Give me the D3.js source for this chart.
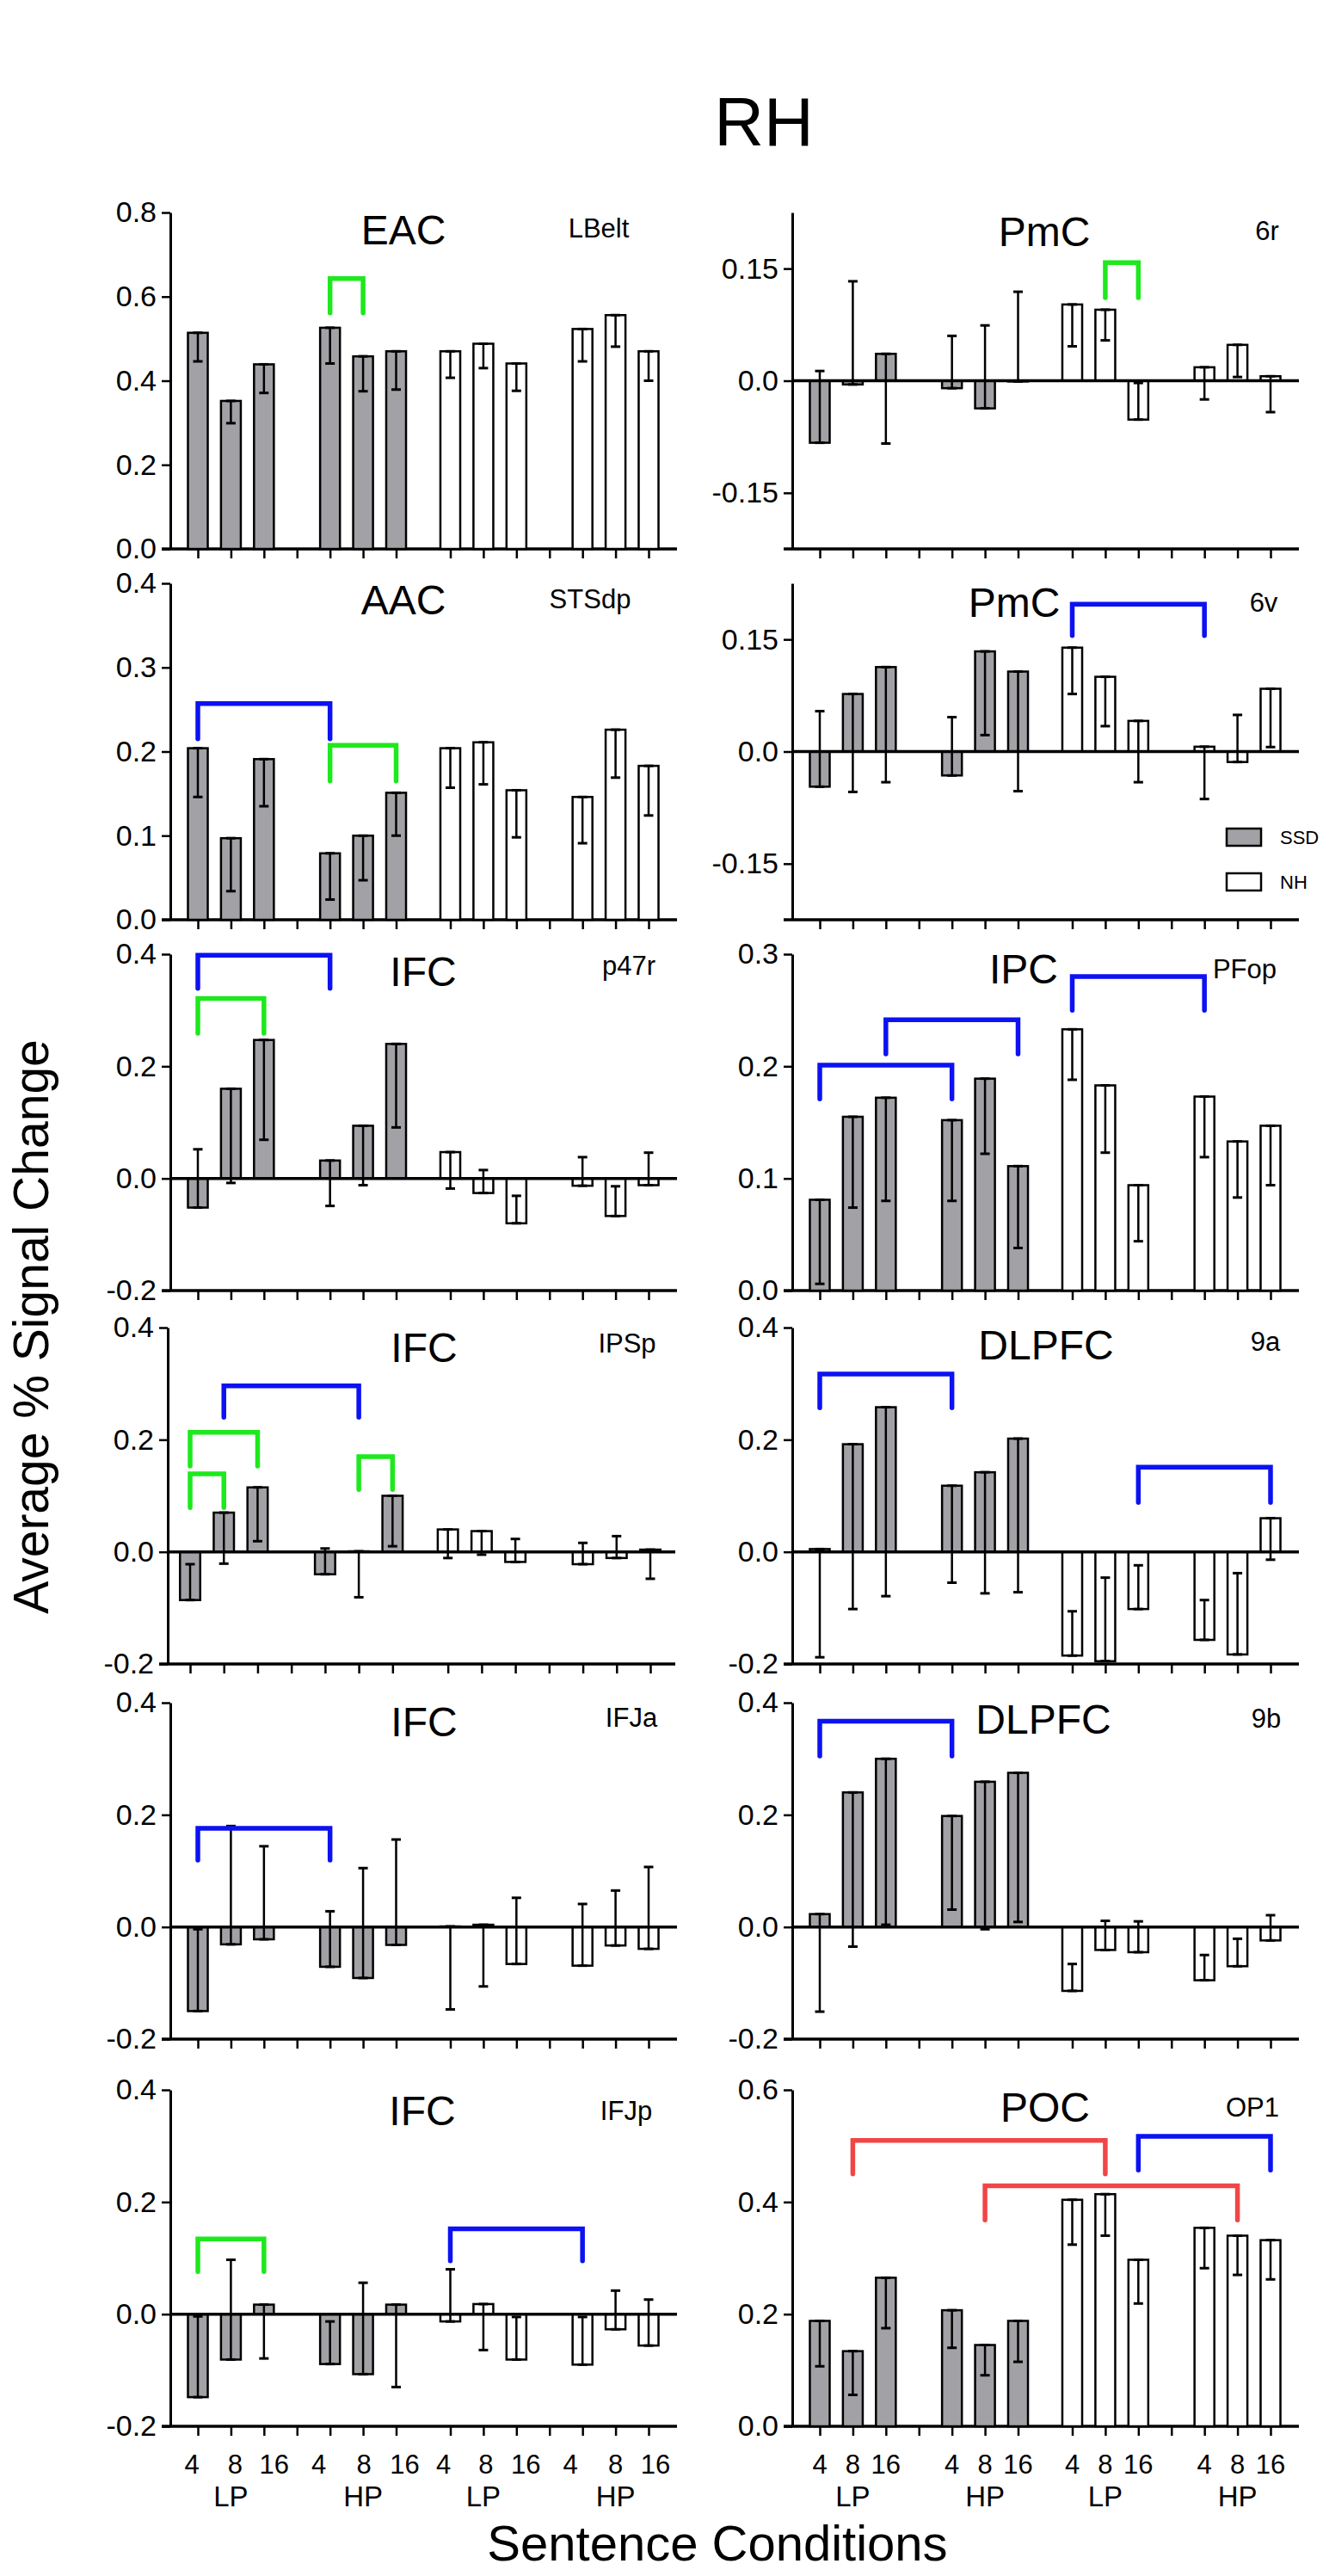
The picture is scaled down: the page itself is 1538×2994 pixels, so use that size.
<!DOCTYPE html>
<html>
<head>
<meta charset="utf-8">
<script src="https://cdn.jsdelivr.net/npm/d3@7"></script>
<style>
  body { margin: 0; background: #fff; }
  svg { display: block; }
  text { font-family: "Liberation Sans", Arial, Helvetica, sans-serif; fill: #000; }
</style>
</head>
<body>
<svg id="chart" width="1538" height="2994"></svg>
<script>
// ---------------- DATA ----------------
// condition order: SSD LP4, LP8, LP16, HP4, HP8, HP16, then NH LP4, LP8, LP16, HP4, HP8, HP16
const groupNames = ["SSD", "NH"];
const conditionLabels = ["4", "8", "16", "4", "8", "16", "4", "8", "16", "4", "8", "16"];
const predictabilityLabels = ["LP", "HP", "LP", "HP"];
const figureTitle = "RH";
const xAxisTitle = "Sentence Conditions";
const yAxisTitle = "Average % Signal Change";

// y ranges and tick labels
const yDomainEAC = [0, 0.8],      yTicksEAC = [0, 0.2, 0.4, 0.6, 0.8];
const yDomainPmC = [-0.225, 0.225], yTicksPmC = [-0.15, 0, 0.15];
const yDomainAAC = [0, 0.4],      yTicksAAC = [0, 0.1, 0.2, 0.3, 0.4];
const yDomainIFC = [-0.2, 0.4],   yTicksIFC = [-0.2, 0, 0.2, 0.4];
const yDomainIPC = [0, 0.3],      yTicksIPC = [0, 0.1, 0.2, 0.3];
const yDomainPOC = [0, 0.6],      yTicksPOC = [0, 0.2, 0.4, 0.6];

// means and standard errors
const eacLBeltMean = [0.514, 0.352, 0.439, 0.526, 0.458, 0.470, 0.470, 0.488, 0.441, 0.523, 0.556, 0.470];
const eacLBeltErr  = [0.068, 0.053, 0.068, 0.085, 0.083, 0.091, 0.063, 0.058, 0.065, 0.077, 0.075, 0.070];
const pmc6rMean = [-0.083, -0.005, 0.036, -0.010, -0.037, -0.001, 0.102, 0.095, -0.052, 0.018, 0.048, 0.006];
const pmc6rErr  = [0.096, 0.138, 0.120, 0.070, 0.111, 0.120, 0.056, 0.041, 0.049, 0.043, 0.043, 0.048];
const aacSTSdpMean = [0.204, 0.097, 0.191, 0.079, 0.100, 0.151, 0.204, 0.211, 0.154, 0.146, 0.226, 0.183];
const aacSTSdpErr  = [0.058, 0.063, 0.056, 0.055, 0.053, 0.051, 0.047, 0.050, 0.056, 0.055, 0.057, 0.059];
const pmc6vMean = [-0.047, 0.077, 0.113, -0.032, 0.134, 0.107, 0.139, 0.100, 0.041, 0.0065, -0.014, 0.084];
const pmc6vErr  = [0.101, 0.131, 0.154, 0.078, 0.112, 0.160, 0.062, 0.066, 0.082, 0.070, 0.063, 0.078];
const ifcP47rMean = [-0.052, 0.160, 0.247, 0.032, 0.094, 0.240, 0.047, -0.026, -0.080, -0.013, -0.067, -0.012];
const ifcP47rErr  = [0.104, 0.168, 0.178, 0.081, 0.106, 0.149, 0.065, 0.041, 0.049, 0.051, 0.053, 0.058];
const ipcPFopMean = [0.081, 0.155, 0.172, 0.152, 0.189, 0.111, 0.233, 0.183, 0.094, 0.173, 0.133, 0.147];
const ipcPFopErr  = [0.075, 0.081, 0.092, 0.072, 0.067, 0.073, 0.045, 0.060, 0.050, 0.054, 0.050, 0.053];
const ifcIPSpMean = [-0.086, 0.070, 0.115, -0.040, 0.001, 0.100, 0.040, 0.037, -0.018, -0.022, -0.011, 0.004];
const ifcIPSpErr  = [0.064, 0.091, 0.096, 0.046, 0.082, 0.090, 0.051, 0.042, 0.041, 0.038, 0.039, 0.052];
const dlpfc9aMean = [0.005, 0.192, 0.258, 0.118, 0.142, 0.202, -0.185, -0.195, -0.102, -0.157, -0.183, 0.060];
const dlpfc9aErr  = [0.193, 0.294, 0.337, 0.173, 0.216, 0.274, 0.079, 0.149, 0.078, 0.071, 0.145, 0.074];
const ifcIFJaMean = [-0.150, -0.031, -0.022, -0.071, -0.091, -0.032, 0.001, 0.004, -0.066, -0.069, -0.033, -0.039];
const ifcIFJaErr  = [0.146, 0.211, 0.166, 0.099, 0.196, 0.188, 0.148, 0.110, 0.118, 0.110, 0.098, 0.146];
const dlpfc9bMean = [0.023, 0.240, 0.300, 0.198, 0.259, 0.275, -0.114, -0.041, -0.045, -0.095, -0.070, -0.024];
const dlpfc9bErr  = [0.174, 0.275, 0.296, 0.167, 0.263, 0.266, 0.048, 0.052, 0.055, 0.045, 0.049, 0.045];
const ifcIFJpMean = [-0.148, -0.081, 0.017, -0.089, -0.107, 0.017, -0.013, 0.018, -0.081, -0.090, -0.027, -0.056];
const ifcIFJpErr  = [0.144, 0.178, 0.096, 0.076, 0.163, 0.147, 0.093, 0.082, 0.076, 0.085, 0.069, 0.082];
const pocOP1Mean = [0.188, 0.134, 0.265, 0.207, 0.145, 0.188, 0.404, 0.414, 0.297, 0.354, 0.340, 0.332];
const pocOP1Err  = [0.081, 0.078, 0.090, 0.067, 0.054, 0.073, 0.080, 0.074, 0.078, 0.072, 0.070, 0.070];

// significance brackets: [fromCondition, toCondition, top value, leg end value, kind]
const eacLBeltBrackets = [[3, 4, 0.643, 0.561, "green"]];
const pmc6rBrackets = [[7, 8, 0.158, 0.111, "green"]];
const aacSTSdpBrackets = [[0, 3, 0.257, 0.215, "blue"], [3, 5, 0.2075, 0.165, "green"]];
const pmc6vBrackets = [[6, 9, 0.197, 0.155, "blue"]];
const ifcP47rBrackets = [[0, 3, 0.398, 0.339, "blue"], [0, 2, 0.321, 0.259, "green"]];
const ipcPFopBrackets = [[0, 3, 0.201, 0.171, "blue"], [2, 5, 0.2415, 0.211, "blue"], [6, 9, 0.280, 0.250, "blue"]];
const ifcIPSpBrackets = [[1, 4, 0.296, 0.240, "blue"], [0, 2, 0.213, 0.153, "green"], [0, 1, 0.139, 0.079, "green"], [4, 5, 0.170, 0.111, "green"]];
const dlpfc9aBrackets = [[0, 3, 0.317, 0.257, "blue"], [8, 11, 0.151, 0.088, "blue"]];
const ifcIFJaBrackets = [[0, 3, 0.176, 0.119, "blue"]];
const dlpfc9bBrackets = [[0, 3, 0.367, 0.305, "blue"]];
const ifcIFJpBrackets = [[0, 2, 0.134, 0.076, "green"], [6, 9, 0.152, 0.095, "blue"]];
const pocOP1Brackets = [[1, 7, 0.510, 0.450, "red"], [4, 10, 0.429, 0.368, "red"], [8, 11, 0.517, 0.457, "blue"]];

const panels = [
  { region: "EAC",   area: "LBelt", mean: eacLBeltMean, err: eacLBeltErr, domain: yDomainEAC, ticks: yTicksEAC, brackets: eacLBeltBrackets },
  { region: "PmC",   area: "6r",    mean: pmc6rMean,    err: pmc6rErr,    domain: yDomainPmC, ticks: yTicksPmC, brackets: pmc6rBrackets },
  { region: "AAC",   area: "STSdp", mean: aacSTSdpMean, err: aacSTSdpErr, domain: yDomainAAC, ticks: yTicksAAC, brackets: aacSTSdpBrackets },
  { region: "PmC",   area: "6v",    mean: pmc6vMean,    err: pmc6vErr,    domain: yDomainPmC, ticks: yTicksPmC, brackets: pmc6vBrackets, legend: true },
  { region: "IFC",   area: "p47r",  mean: ifcP47rMean,  err: ifcP47rErr,  domain: yDomainIFC, ticks: yTicksIFC, brackets: ifcP47rBrackets },
  { region: "IPC",   area: "PFop",  mean: ipcPFopMean,  err: ipcPFopErr,  domain: yDomainIPC, ticks: yTicksIPC, brackets: ipcPFopBrackets },
  { region: "IFC",   area: "IPSp",  mean: ifcIPSpMean,  err: ifcIPSpErr,  domain: yDomainIFC, ticks: yTicksIFC, brackets: ifcIPSpBrackets },
  { region: "DLPFC", area: "9a",    mean: dlpfc9aMean,  err: dlpfc9aErr,  domain: yDomainIFC, ticks: yTicksIFC, brackets: dlpfc9aBrackets },
  { region: "IFC",   area: "IFJa",  mean: ifcIFJaMean,  err: ifcIFJaErr,  domain: yDomainIFC, ticks: yTicksIFC, brackets: ifcIFJaBrackets },
  { region: "DLPFC", area: "9b",    mean: dlpfc9bMean,  err: dlpfc9bErr,  domain: yDomainIFC, ticks: yTicksIFC, brackets: dlpfc9bBrackets },
  { region: "IFC",   area: "IFJp",  mean: ifcIFJpMean,  err: ifcIFJpErr,  domain: yDomainIFC, ticks: yTicksIFC, brackets: ifcIFJpBrackets },
  { region: "POC",   area: "OP1",   mean: pocOP1Mean,   err: pocOP1Err,   domain: yDomainPOC, ticks: yTicksPOC, brackets: pocOP1Brackets }
];

// ---------------- LAYOUT ----------------
const W = 1538, H = 2994;
const rowTops = [247, 678, 1109, 1543, 1979, 2429];
const rowH = 391;
const leftGeo  = { axis: 198, x0: 230, x1: 754, end: 787 };
const leftGeoR4 = { axis: 195, x0: 221, x1: 756, end: 785 };
const rightGeo = { axis: 921, x0: 953, x1: 1477, end: 1510 };
// title positions (centre x, baseline y) for region and area labels
const titlePos = [
  [469, 284, 696, 276], [1214, 286, 1473, 279],
  [469, 714, 686, 707], [1179, 717, 1469, 711],
  [492, 1146, 731, 1133], [1190, 1143, 1447, 1137],
  [493, 1583, 729, 1572], [1216, 1580, 1471, 1570],
  [493, 2018, 734, 2007], [1213, 2015, 1472, 2008],
  [491, 2470, 728, 2464], [1215, 2466, 1456, 2460]
];
const labelNudgeLeft = [-7, 5, 12, -13, 1, 10, -8, 3, 11, -14, 0, 8];
const colors = { green: "#1ee81e", blue: "#0c12f2", red: "#f04646" };
const ssdFill = "#a2a2a6";
const FONT = '"Liberation Sans", Arial, Helvetica, sans-serif';

const slotOf = i => { const j = i % 6; return (j < 3 ? j : j + 1) + (i >= 6 ? 7.64 : 0); };
const tickSlots = d3.range(7).concat(d3.range(7).map(d => d + 7.64));
const fmt = v => (Math.abs(v * 10 - Math.round(v * 10)) < 1e-9 ? v.toFixed(1) : v.toFixed(2));

const svg = d3.select("#chart");
svg.append("rect").attr("width", W).attr("height", H).attr("fill", "#fff");

// figure title
svg.append("text").attr("x", 888).attr("y", 169).attr("text-anchor", "middle")
  .attr("font-size", 80).text(figureTitle);

panels.forEach((p, k) => {
  const col = k % 2, row = Math.floor(k / 2);
  const geo = col === 0 ? (row === 3 ? leftGeoR4 : leftGeo) : rightGeo;
  const top = rowTops[row];
  const x = d3.scaleLinear().domain([0, 13.64]).range([geo.x0, geo.x1]);
  const y = d3.scaleLinear().domain(p.domain).range([top + rowH, top]);
  const unit = (geo.x1 - geo.x0) / 13.64;
  const bw = unit * 0.6;
  const g = svg.append("g");

  // y axis
  const ya = g.append("g").attr("transform", `translate(${geo.axis},0)`)
    .call(d3.axisLeft(y).tickValues(p.ticks).tickFormat(fmt).tickSize(10).tickSizeOuter(0).tickPadding(6));
  ya.select(".domain").attr("stroke-width", 3);
  ya.selectAll(".tick line").attr("stroke-width", 2.5);
  ya.selectAll(".tick text").attr("font-size", 34).attr("font-family", FONT).attr("fill", "#000");

  // bottom axis (ticks only, line drawn from y-axis to end)
  const yb = y(p.domain[0]);
  const xa = g.append("g").attr("transform", `translate(0,${yb})`)
    .call(d3.axisBottom(x).tickValues(tickSlots).tickFormat("").tickSize(11).tickSizeOuter(0));
  xa.select(".domain").remove();
  xa.selectAll(".tick line").attr("stroke-width", 2.5);
  g.append("line").attr("x1", geo.axis - 10).attr("x2", geo.end).attr("y1", yb).attr("y2", yb)
    .attr("stroke", "#000").attr("stroke-width", 3.5);

  // bars
  const data = p.mean.map((v, i) => ({ v, e: p.err[i], i, s: slotOf(i) }));
  g.selectAll("rect.bar").data(data).enter().append("rect").attr("class", "bar")
    .attr("x", d => x(d.s) - bw / 2)
    .attr("y", d => Math.min(y(d.v), y(0)))
    .attr("width", bw)
    .attr("height", d => Math.abs(y(d.v) - y(0)))
    .attr("fill", d => d.i < 6 ? ssdFill : "#fff")
    .attr("stroke", "#000").attr("stroke-width", 2.5);

  // zero line
  if (p.domain[0] < 0) {
    g.append("line").attr("x1", geo.axis).attr("x2", geo.end).attr("y1", y(0)).attr("y2", y(0))
      .attr("stroke", "#000").attr("stroke-width", 3.5);
  }

  // error bars (drawn from the mean toward zero)
  const capW = 11;
  data.forEach(d => {
    const sgn = d.v >= 0 ? 1 : -1;
    const y1 = y(d.v), y2 = y(d.v - sgn * d.e), cx = x(d.s);
    g.append("line").attr("x1", cx).attr("x2", cx).attr("y1", y1).attr("y2", y2)
      .attr("stroke", "#000").attr("stroke-width", 2.5);
    [y1, y2].forEach(yy => g.append("line").attr("x1", cx - capW / 2).attr("x2", cx + capW / 2)
      .attr("y1", yy).attr("y2", yy).attr("stroke", "#000").attr("stroke-width", 3));
  });

  // significance brackets
  p.brackets.forEach(b => {
    const xa1 = x(slotOf(b[0])), xa2 = x(slotOf(b[1]));
    const yt = y(b[2]), yl = y(b[3]);
    g.append("path").attr("d", `M${xa1},${yl}L${xa1},${yt}L${xa2},${yt}L${xa2},${yl}`)
      .attr("fill", "none").attr("stroke", colors[b[4]]).attr("stroke-width", 5.5)
      .attr("stroke-linecap", "round").attr("stroke-linejoin", "miter");
  });

  // titles
  const tp = titlePos[k];
  g.append("text").attr("x", tp[0]).attr("y", tp[1]).attr("text-anchor", "middle")
    .attr("font-size", 48).text(p.region);
  g.append("text").attr("x", tp[2]).attr("y", tp[3]).attr("text-anchor", "middle")
    .attr("font-size", 31).text(p.area);

  // legend
  if (p.legend) {
    groupNames.forEach((nm, gi) => {
      const by = 963 + gi * 52;
      g.append("rect").attr("x", 1426).attr("y", by).attr("width", 40).attr("height", 20)
        .attr("fill", gi === 0 ? ssdFill : "#fff").attr("stroke", "#000").attr("stroke-width", 2.5);
      g.append("text").attr("x", 1488).attr("y", by + 18).attr("font-size", 22).text(nm);
    });
  }

  // condition labels under the bottom row
  if (row === 5) {
    conditionLabels.forEach((lab, i) => {
      g.append("text").attr("x", x(slotOf(i)) + (col === 0 ? labelNudgeLeft[i] : 0)).attr("y", 2875)
        .attr("text-anchor", "middle").attr("font-size", 31).text(lab);
    });
    predictabilityLabels.forEach((lab, j) => {
      g.append("text").attr("x", x(slotOf(j * 3 + 1))).attr("y", 2913)
        .attr("text-anchor", "middle").attr("font-size", 33).text(lab);
    });
  }
});

// axis titles
svg.append("text").attr("x", 834).attr("y", 2976).attr("text-anchor", "middle")
  .attr("font-size", 58).text(xAxisTitle);
svg.append("text").attr("transform", "translate(56,1542) rotate(-90)").attr("text-anchor", "middle")
  .attr("font-size", 57).text(yAxisTitle);
</script>
</body>
</html>
